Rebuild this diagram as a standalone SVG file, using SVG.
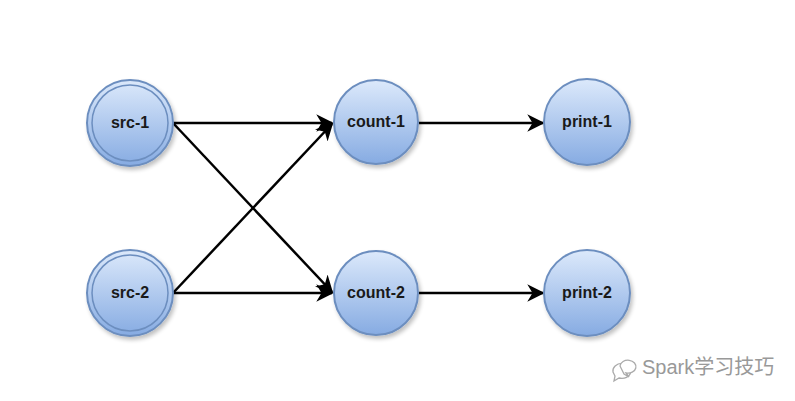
<svg xmlns="http://www.w3.org/2000/svg" width="795" height="401" viewBox="0 0 795 401">
<defs>
<linearGradient id="g" x1="0" y1="0" x2="0" y2="1">
<stop offset="0" stop-color="#dce9fb"/>
<stop offset="1" stop-color="#86abe2"/>
</linearGradient>
<filter id="sh" x="-20%" y="-20%" width="150%" height="150%">
<feGaussianBlur in="SourceAlpha" stdDeviation="2"/>
<feOffset dx="2" dy="3"/>
<feComponentTransfer><feFuncA type="linear" slope="0.25"/></feComponentTransfer>
<feMerge><feMergeNode/><feMergeNode in="SourceGraphic"/></feMerge>
</filter>
<marker id="arr" viewBox="0 0 10 10" refX="9" refY="5" markerWidth="7" markerHeight="7" markerUnits="strokeWidth" orient="auto">
<path d="M0,0 L10,5 L0,10 L3,5 Z" fill="#000"/>
</marker>
</defs>
<style>
.n{fill:url(#g);stroke:#6c8ebf;stroke-width:2;filter:url(#sh)}
.in{fill:none;stroke:#6c8ebf;stroke-width:1.5}
.t{font-family:"Liberation Sans",Arial,sans-serif;font-weight:bold;font-size:16px;fill:#1a1a1a;text-anchor:middle}
.e{stroke:#000;stroke-width:2.5;fill:none;marker-end:url(#arr)}
</style>
<rect width="795" height="401" fill="#fff"/>
<g id="connectors">
<line class="e" x1="173" y1="123" x2="332" y2="123"/>
<line class="e" x1="173" y1="123" x2="332" y2="292"/>
<line class="e" x1="173" y1="293" x2="332" y2="124"/>
<line class="e" x1="173" y1="293" x2="332" y2="293"/>
<line class="e" x1="419" y1="123" x2="543" y2="123"/>
<line class="e" x1="419" y1="293" x2="543" y2="293"/>
</g>
<g id="src-1">
<circle class="n" cx="130" cy="123" r="43"/>
<circle class="in" cx="130" cy="123" r="38"/>
<text class="t" x="130" y="128">src-1</text>
</g>
<g id="src-2">
<circle class="n" cx="130" cy="293" r="43"/>
<circle class="in" cx="130" cy="293" r="38"/>
<text class="t" x="130" y="298">src-2</text>
</g>
<g id="count-1">
<circle class="n" cx="376" cy="122" r="42"/>
<text class="t" x="376" y="127">count-1</text>
</g>
<g id="count-2">
<circle class="n" cx="376" cy="293" r="42"/>
<text class="t" x="376" y="298">count-2</text>
</g>
<g id="print-1">
<circle class="n" cx="587" cy="122" r="43"/>
<text class="t" x="587" y="127">print-1</text>
</g>
<g id="print-2">
<circle class="n" cx="587" cy="293" r="43"/>
<text class="t" x="587" y="298">print-2</text>
</g>
<g id="watermark" fill="none" stroke="#aaa" stroke-width="1.3">
<path d="M613,372 a9,7.5 0 1 1 6,6 l-5,3 l1,-5 z"/>
<path d="M620,366 a8,6.5 0 1 1 6,7 l3,4 l-5,-3 z" fill="#fff"/>
<text x="642" y="374" font-family="'Liberation Sans','Noto Sans CJK SC',sans-serif" font-size="20" fill="#999" stroke="none">Spark学习技巧</text>
</g>
</svg>
